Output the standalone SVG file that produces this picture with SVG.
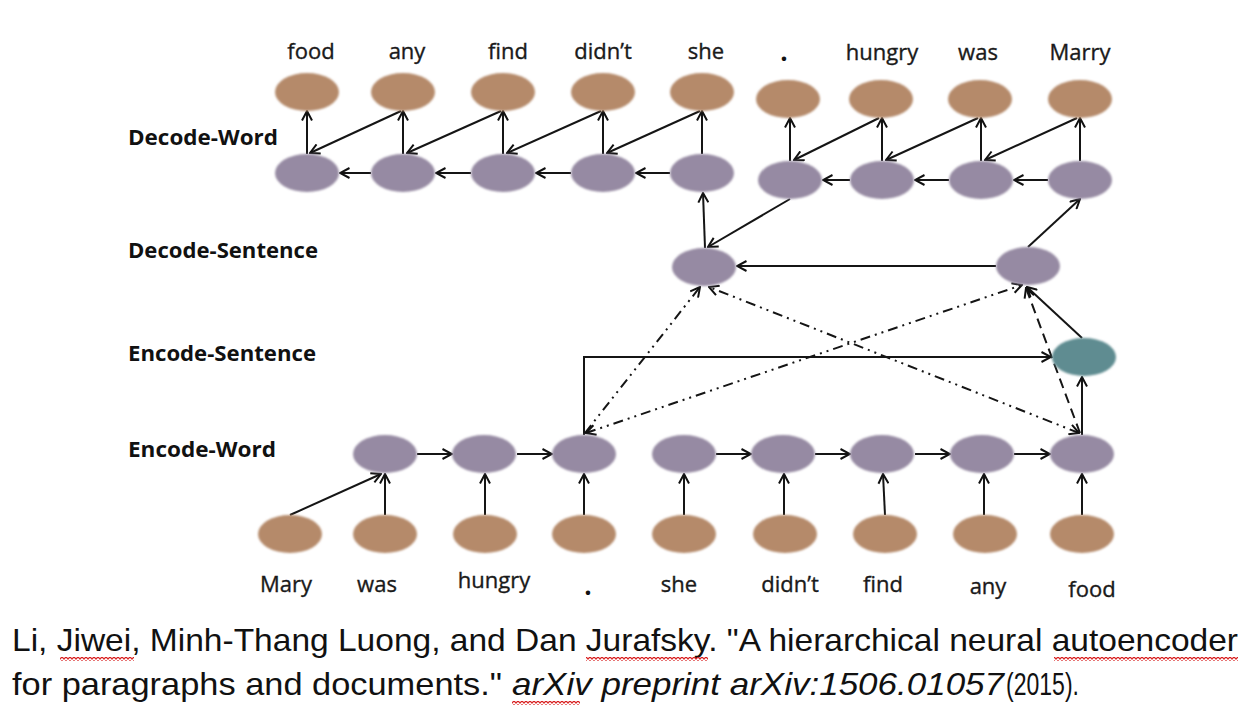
<svg xmlns="http://www.w3.org/2000/svg" width="1258" height="714" viewBox="0 0 1258 714">
<style>
.br{fill:#b58a6a;filter:url(#soft)}
.pu{fill:#968aa3;filter:url(#soft)}
.te{fill:#5f8c91;filter:url(#soft)}
.w{font-family:"Open Sans","Liberation Sans",sans-serif;font-size:22px;fill:#1a1a1a;stroke:#1a1a1a;stroke-width:0.35;text-anchor:middle}
.dot{font-family:"Open Sans","Liberation Sans",sans-serif;font-size:26px;font-weight:700;fill:#111;text-anchor:middle}
.lab{font-family:"Open Sans","Liberation Sans",sans-serif;font-size:22px;font-weight:700;fill:#111}
.cit{font-family:"Liberation Sans",Arial,sans-serif;font-size:32px;fill:#111}
.s{fill:none;stroke:#151515;stroke-width:2;marker-end:url(#ah)}
.dd{fill:none;stroke:#151515;stroke-width:2;stroke-dasharray:10 5 2 5 2 5;marker-end:url(#ah)}
.da{fill:none;stroke:#151515;stroke-width:2;stroke-dasharray:10 6;marker-end:url(#ah)}
.both{marker-start:url(#ah)}
</style>
<defs>
<filter id="soft" x="-10%" y="-10%" width="120%" height="120%"><feGaussianBlur stdDeviation="0.8"/></filter>
<marker id="ah" viewBox="0 0 12 12" refX="11" refY="6" markerWidth="12" markerHeight="12" markerUnits="userSpaceOnUse" orient="auto-start-reverse"><path d="M1.5,1 L11,6 L1.5,11" fill="none" stroke="#111" stroke-width="2"/></marker>
<pattern id="squig" width="4" height="4" patternUnits="userSpaceOnUse"><path d="M0,3.3 L2,0.7 L4,3.3" fill="none" stroke="#d81e1e" stroke-width="1.2"/></pattern>
</defs>
<rect width="1258" height="714" fill="#fff"/>

<g id="layer-labels">
<text class="lab" x="128" y="145" textLength="150" lengthAdjust="spacingAndGlyphs">Decode-Word</text>
<text class="lab" x="128" y="258" textLength="190" lengthAdjust="spacingAndGlyphs">Decode-Sentence</text>
<text class="lab" x="128" y="361" textLength="188" lengthAdjust="spacingAndGlyphs">Encode-Sentence</text>
<text class="lab" x="128" y="457" textLength="148" lengthAdjust="spacingAndGlyphs">Encode-Word</text>
</g>

<g id="connectors">
<path class="s" d="M307,154 V111"/>
<path class="s" d="M403,154 V111"/>
<path class="s" d="M503,154 V111"/>
<path class="s" d="M603,154 V111"/>
<path class="s" d="M702,154 V111"/>
<path class="s" d="M401,111 L310,153"/>
<path class="s" d="M501,111 L407,153"/>
<path class="s" d="M601,111 L507,153"/>
<path class="s" d="M700,111 L607,153"/>
<path class="s" d="M670,173 H636"/>
<path class="s" d="M571,173 H536"/>
<path class="s" d="M471,173 H436"/>
<path class="s" d="M371,173 H340"/>
<path class="s" d="M790,161 V118"/>
<path class="s" d="M882,161 V118"/>
<path class="s" d="M981,161 V118"/>
<path class="s" d="M1080,161 V118"/>
<path class="s" d="M1077,118 L985,160"/>
<path class="s" d="M978,118 L886,160"/>
<path class="s" d="M879,118 L794,160"/>
<path class="s" d="M1048,180 H1014"/>
<path class="s" d="M949,180 H915"/>
<path class="s" d="M850,180 H823"/>
<path class="s" d="M705,248 L703,193"/>
<path class="s" d="M790,199 L708,247"/>
<path class="s" d="M1028,247 L1080,199"/>
<path class="s" d="M996,266 H737"/>
<path class="s" d="M1082,338 L1027,287"/>
<path class="s" d="M584,435 V357 H1051"/>
<path class="s" d="M1082,435 V377"/>
<path class="dd" d="M585,433 L700,287"/>
<path class="dd both" d="M1079,433 L709,287"/>
<path class="dd both" d="M586,433 L1022,285"/>
<path class="da" d="M1080,433 L1026,288"/>
<path class="s" d="M417,454 H452"/>
<path class="s" d="M517,454 H552"/>
<path class="s" d="M716,454 H751"/>
<path class="s" d="M815,454 H850"/>
<path class="s" d="M915,454 H950"/>
<path class="s" d="M1014,454 H1050"/>
<path class="s" d="M290,515 L381,474"/>
<path class="s" d="M385,515 V474"/>
<path class="s" d="M485,515 V474"/>
<path class="s" d="M584,515 V474"/>
<path class="s" d="M684,515 V474"/>
<path class="s" d="M784,515 V474"/>
<path class="s" d="M885,515 L883,474"/>
<path class="s" d="M984,515 V474"/>
<path class="s" d="M1082,515 V474"/>
</g>

<g id="dw-out-food"><ellipse class="br" cx="307" cy="92" rx="32" ry="19"/><text class="w" x="311" y="59">food</text></g>
<g id="dw-out-any"><ellipse class="br" cx="403" cy="92" rx="32" ry="19"/><text class="w" x="407" y="59">any</text></g>
<g id="dw-out-find"><ellipse class="br" cx="503" cy="92" rx="32" ry="19"/><text class="w" x="508" y="59">find</text></g>
<g id="dw-out-didnt"><ellipse class="br" cx="603" cy="92" rx="32" ry="19"/><text class="w" x="603" y="59">didn’t</text></g>
<g id="dw-out-she"><ellipse class="br" cx="702" cy="92" rx="32" ry="19"/><text class="w" x="706" y="59">she</text></g>
<g id="dw-out-dot"><ellipse class="br" cx="788" cy="99" rx="32" ry="19"/><text class="dot" x="784" y="61">.</text></g>
<g id="dw-out-hungry"><ellipse class="br" cx="881" cy="99" rx="32" ry="19"/><text class="w" x="882" y="60">hungry</text></g>
<g id="dw-out-was"><ellipse class="br" cx="980" cy="99" rx="32" ry="19"/><text class="w" x="978" y="60">was</text></g>
<g id="dw-out-marry"><ellipse class="br" cx="1080" cy="99" rx="32" ry="19"/><text class="w" x="1080" y="60">Marry</text></g>

<g id="dw-h1"><ellipse class="pu" cx="307" cy="173" rx="32" ry="19"/></g>
<g id="dw-h2"><ellipse class="pu" cx="403" cy="173" rx="32" ry="19"/></g>
<g id="dw-h3"><ellipse class="pu" cx="503" cy="173" rx="32" ry="19"/></g>
<g id="dw-h4"><ellipse class="pu" cx="603" cy="173" rx="32" ry="19"/></g>
<g id="dw-h5"><ellipse class="pu" cx="702" cy="173" rx="32" ry="19"/></g>
<g id="dw-h6"><ellipse class="pu" cx="790" cy="180" rx="32" ry="19"/></g>
<g id="dw-h7"><ellipse class="pu" cx="882" cy="180" rx="32" ry="19"/></g>
<g id="dw-h8"><ellipse class="pu" cx="981" cy="180" rx="32" ry="19"/></g>
<g id="dw-h9"><ellipse class="pu" cx="1080" cy="180" rx="32" ry="19"/></g>

<g id="ds-1"><ellipse class="pu" cx="704" cy="267" rx="32" ry="19"/></g>
<g id="ds-2"><ellipse class="pu" cx="1028" cy="266" rx="32" ry="19"/></g>

<g id="es"><ellipse class="te" cx="1084" cy="357" rx="32" ry="19"/></g>

<g id="ew-h1"><ellipse class="pu" cx="385" cy="454" rx="32" ry="19"/></g>
<g id="ew-h2"><ellipse class="pu" cx="484" cy="454" rx="32" ry="19"/></g>
<g id="ew-h3"><ellipse class="pu" cx="584" cy="454" rx="32" ry="19"/></g>
<g id="ew-h4"><ellipse class="pu" cx="684" cy="454" rx="32" ry="19"/></g>
<g id="ew-h5"><ellipse class="pu" cx="783" cy="454" rx="32" ry="19"/></g>
<g id="ew-h6"><ellipse class="pu" cx="882" cy="454" rx="32" ry="19"/></g>
<g id="ew-h7"><ellipse class="pu" cx="982" cy="454" rx="32" ry="19"/></g>
<g id="ew-h8"><ellipse class="pu" cx="1082" cy="454" rx="32" ry="19"/></g>

<g id="ew-in-mary"><ellipse class="br" cx="290" cy="534" rx="32" ry="19"/><text class="w" x="286" y="592">Mary</text></g>
<g id="ew-in-was"><ellipse class="br" cx="385" cy="534" rx="32" ry="19"/><text class="w" x="377" y="592">was</text></g>
<g id="ew-in-hungry"><ellipse class="br" cx="485" cy="534" rx="32" ry="19"/><text class="w" x="494" y="588">hungry</text></g>
<g id="ew-in-dot"><ellipse class="br" cx="584" cy="534" rx="32" ry="19"/><text class="dot" x="588" y="595">.</text></g>
<g id="ew-in-she"><ellipse class="br" cx="684" cy="534" rx="32" ry="19"/><text class="w" x="679" y="592">she</text></g>
<g id="ew-in-didnt"><ellipse class="br" cx="785" cy="534" rx="32" ry="19"/><text class="w" x="790" y="592">didn’t</text></g>
<g id="ew-in-find"><ellipse class="br" cx="885" cy="534" rx="32" ry="19"/><text class="w" x="883" y="592">find</text></g>
<g id="ew-in-any"><ellipse class="br" cx="985" cy="534" rx="32" ry="19"/><text class="w" x="988" y="594">any</text></g>
<g id="ew-in-food"><ellipse class="br" cx="1082" cy="534" rx="32" ry="19"/><text class="w" x="1092" y="597">food</text></g>

<g id="citation">
<text class="cit" x="12" y="651" textLength="1226" lengthAdjust="spacingAndGlyphs">Li, Jiwei, Minh-Thang Luong, and Dan Jurafsky. "A hierarchical neural autoencoder</text>
<text class="cit" x="12" y="695" textLength="490" lengthAdjust="spacingAndGlyphs">for paragraphs and documents."</text>
<text class="cit" x="512" y="695" font-style="italic" textLength="492" lengthAdjust="spacingAndGlyphs">arXiv preprint arXiv:1506.01057</text>
<text class="cit" x="1006" y="695" textLength="73" lengthAdjust="spacingAndGlyphs">(2015).</text>
<rect x="60" y="657" width="74" height="4" fill="url(#squig)"/>
<rect x="586" y="657" width="122" height="4" fill="url(#squig)"/>
<rect x="1054" y="657" width="184" height="4" fill="url(#squig)"/>
<rect x="512" y="701" width="68" height="4" fill="url(#squig)"/>
</g>
</svg>
